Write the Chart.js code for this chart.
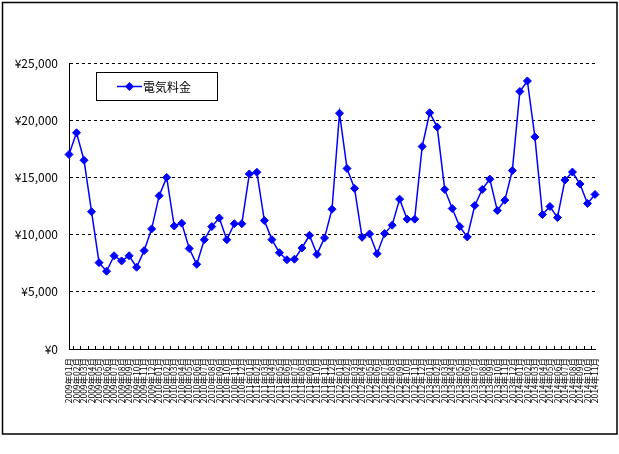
<!DOCTYPE html>
<html><head><meta charset="utf-8">
<script src="https://cdn.jsdelivr.net/npm/chart.js@4.4.1/dist/chart.umd.min.js"></script>
<style>
html,body{margin:0;padding:0;background:#fff;}
#wrap{position:absolute;left:0;top:0;width:619px;height:454px;}
</style></head>
<body><div id="wrap"><canvas id="c" width="619" height="454"></canvas></div>
<script>
const seriesName = '電気料金';
const years = ['2009','2010','2011','2012','2013','2014'];
const months = ['01','02','03','04','05','06','07','08','09','10','11','12'];
const categories = [];
years.forEach(y => months.forEach(m => categories.push(y + '年' + m + '月')));
categories.splice(71);
const values = [
  17000, 18900, 16500, 12000, 7550, 6800, 8150, 7700, 8150, 7150, 8600, 10500,
  13400, 15000, 10750, 11000, 8780, 7400, 9550, 10700, 11450, 9550, 10950, 10950,
  15300, 15450, 11230, 9560, 8420, 7800, 7850, 8830, 9940, 8270, 9710, 12220,
  20610, 15780, 14040, 9765, 10060, 8330, 10090, 10820, 13100, 11350, 11350, 17700,
  20650, 19400, 13950, 12280, 10700, 9800, 12540, 13950, 14850, 12100, 13010, 15600,
  22510, 23430, 18540, 11750, 12460, 11490, 14770, 15470, 14420, 12720, 13510
];
const yTicks = [0, 5000, 10000, 15000, 20000, 25000];

const FONT = "'MS PGothic','Noto Sans CJK JP',sans-serif";
const BLUE = '#0000FF';

const decor = {
  id: 'decor',
  afterDraw(chart) {
    const ctx = chart.ctx;
    const xs = chart.scales.x;
    const area = chart.chartArea;
    ctx.save();
    // outer frame
    ctx.strokeStyle = '#000';
    ctx.lineWidth = 1.5;
    ctx.strokeRect(2.5, 2.5, 614.5, 431.5);
    // inside tick marks between categories
    ctx.lineWidth = 1;
    ctx.beginPath();
    for (let i = 0; i < chart.data.labels.length - 1; i++) {
      const x = Math.round((xs.getPixelForTick(i) + xs.getPixelForTick(i + 1)) / 2) + 0.5;
      ctx.moveTo(x, Math.round(area.bottom));
      ctx.lineTo(x, Math.round(area.bottom) - 3);
    }
    ctx.stroke();
    // legend box
    const lx = 96.5, ly = 72.5, lw = 121, lh = 28;
    ctx.fillStyle = '#fff';
    ctx.fillRect(lx, ly, lw, lh);
    ctx.strokeStyle = '#000';
    ctx.lineWidth = 1;
    ctx.strokeRect(lx, ly, lw, lh);
    const cy = ly + lh / 2;
    ctx.strokeStyle = BLUE;
    ctx.lineWidth = 1.5;
    ctx.beginPath();
    ctx.moveTo(117, cy);
    ctx.lineTo(142, cy);
    ctx.stroke();
    ctx.fillStyle = BLUE;
    ctx.beginPath();
    ctx.moveTo(129.5 - 4.5, cy);
    ctx.lineTo(129.5, cy - 4.5);
    ctx.lineTo(129.5 + 4.5, cy);
    ctx.lineTo(129.5, cy + 4.5);
    ctx.closePath();
    ctx.fill();
    ctx.fillStyle = '#000';
    ctx.font = '12px ' + FONT;
    ctx.textBaseline = 'middle';
    ctx.textAlign = 'left';
    ctx.fillText(chart.data.datasets[0].label, 143, cy + 0.5);
    ctx.restore();
  }
};

new Chart(document.getElementById('c'), {
  type: 'line',
  data: {
    labels: categories,
    datasets: [{
      label: seriesName,
      data: values,
      borderColor: BLUE,
      backgroundColor: BLUE,
      borderWidth: 1.5,
      pointStyle: 'rectRot',
      pointRadius: 4,
      pointHoverRadius: 4,
      pointBorderWidth: 1,
      pointBackgroundColor: BLUE,
      pointBorderColor: BLUE,
      tension: 0,
      clip: false
    }]
  },
  options: {
    responsive: false,
    animation: false,
    devicePixelRatio: 1,
    layout: { padding: { top: 63, right: 24, left: 0, bottom: 0 } },
    plugins: { legend: { display: false }, tooltip: { enabled: false } },
    scales: {
      x: {
        type: 'category',
        offset: false,
        grid: { display: false, drawTicks: false },
        border: { display: true, color: '#000', width: 1 },
        ticks: {
          autoSkip: false, minRotation: 90, maxRotation: 90, padding: 9,
          color: '#000', font: { family: FONT, size: 8.5 }
        },
        afterFit(s) { s.height = 105; }
      },
      y: {
        min: 0, max: 25000,
        afterBuildTicks(s) { s.ticks = yTicks.map(v => ({ value: v })); },
        grid: { color: '#000', lineWidth: 1, drawTicks: false },
        border: { display: true, color: '#000', width: 1, dash: [3, 3] },
        ticks: {
          padding: 11, color: '#000', font: { family: FONT, size: 12 },
          callback: v => '¥' + Number(v).toLocaleString('en-US')
        },
        afterFit(s) { s.width = 69; }
      }
    }
  },
  plugins: [decor]
});
</script></body></html>
